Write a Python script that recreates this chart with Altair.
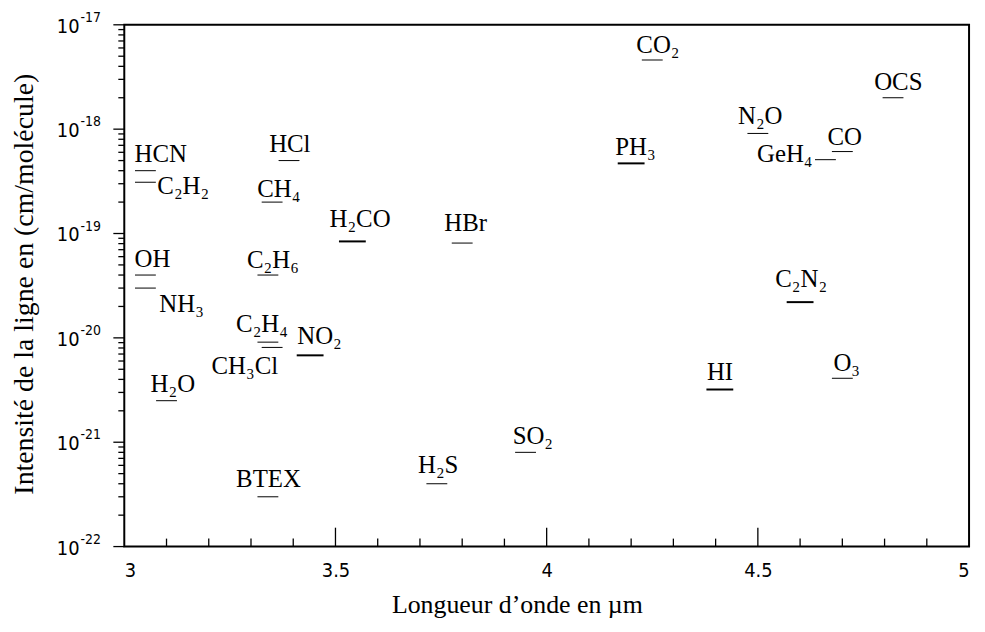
import altair as alt
import pandas as pd

# ---------------- data ----------------
molecules = ["HCN", "C₂H₂", "OH", "NH₃", "H₂O", "HCl", "CH₄", "C₂H₆", "C₂H₄", "CH₃Cl",
             "NO₂", "BTEX", "H₂CO", "HBr", "H₂S", "SO₂", "CO₂", "PH₃", "N₂O", "GeH₄",
             "CO", "OCS", "C₂N₂", "HI", "O₃"]
wavelength_um = [3.05, 3.05, 3.05, 3.05, 3.10, 3.39, 3.35, 3.34, 3.34, 3.35,
                 3.44, 3.34, 3.54, 3.80, 3.74, 3.95, 4.25, 4.20, 4.50, 4.66,
                 4.70, 4.82, 4.60, 4.41, 4.70]
intensity = [4.0e-19, 3.1e-19, 4.0e-20, 3.0e-20, 2.5e-21, 5.0e-19, 2.0e-19, 4.0e-20, 9.1e-21, 8.1e-21,
             6.8e-21, 3.0e-22, 8.4e-20, 8.1e-20, 4.0e-22, 8.0e-22, 4.6e-18, 4.7e-19, 9.1e-19, 5.1e-19,
             6.1e-19, 2.0e-18, 2.2e-20, 3.2e-21, 4.1e-21]

x_axis_labels = [3, 3.5, 4, 4.5, 5]
x_major_ticks = [3.5, 4.0, 4.5]
x_minor_ticks = [3.1, 3.2, 3.3, 3.4, 3.6, 3.7, 3.8, 3.9, 4.1, 4.2, 4.3, 4.4, 4.6, 4.7, 4.8, 4.9]
y_decades = [1e-22, 1e-21, 1e-20, 1e-19, 1e-18, 1e-17]
y_exponents = ["-22", "-21", "-20", "-19", "-18", "-17"]
y_minor_ticks = [k * d for d in [1e-22, 1e-21, 1e-20, 1e-19, 1e-18] for k in [2, 3, 4, 5, 6, 7, 8, 9]]

# ---------------- layout / style ----------------
BOLD = {"H₂CO", "NO₂", "PH₃", "C₂N₂", "HI"}
# label offsets (px) relative to the line centre: dx, dy, align
LABEL_LAYOUT = {
    "HCN": (-11, -9, "left"), "C₂H₂": (12, 12, "left"), "OH": (-11, -8, "left"),
    "NH₃": (14, 24, "left"), "H₂O": (-16, -9, "left"), "HCl": (-20, -9, "left"),
    "CH₄": (-15, -5, "left"), "C₂H₆": (-21, -7, "left"), "C₂H₄": (-32, -10, "left"),
    "CH₃Cl": (-61, 27, "left"), "NO₂": (-13, -11, "left"), "BTEX": (-32, -10, "left"),
    "H₂CO": (-23, -14, "left"), "HBr": (-18, -12, "left"), "H₂S": (-19, -11, "left"),
    "SO₂": (-13, -8, "left"), "CO₂": (-16, -7, "left"), "PH₃": (-16, -8, "left"),
    "N₂O": (-20, -9, "left"), "GeH₄": (-13, 2, "right"), "CO": (-15, -7, "left"),
    "OCS": (-19, -8, "left"), "C₂N₂": (-25, -15, "left"), "HI": (-13, -10, "left"),
    "O₃": (-9, -7, "left"),
}
W, H = 850, 525
SERIF = "Liberation Serif"
SANS = "Liberation Sans Narrow, DejaVu Sans Condensed, Liberation Sans, sans-serif"

df = pd.DataFrame({"molecule": molecules, "wavelength": wavelength_um, "intensity": intensity})
df["bold"] = df["molecule"].isin(BOLD)

xs = alt.Scale(domain=[3, 5], nice=False, zero=False)
ys = alt.Scale(type="log", domain=[1e-22, 1e-17], nice=False)

x_axis = alt.Axis(values=x_axis_labels, format="~g", ticks=False, domain=False, grid=False,
                  labelFont=SANS, labelFontSize=20, labelPadding=14, labelColor="black",
                  title="Longueur d’onde en µm", titleFont=SERIF, titleFontSize=26,
                  titleFontWeight="normal", titlePadding=11, titleColor="black",
                  titleX=395, titleAnchor="middle", titleAlign="center")
y_axis = alt.Axis(labels=False, ticks=False, domain=False, grid=False,
                  title="Intensité de la ligne en (cm/molécule)", titleFont=SERIF,
                  titleFontSize=28, titleFontWeight="normal", titleColor="black",
                  titleAngle=-90, titleX=-86, titleY=H / 2 - 2, titleBaseline="bottom", titleAlign="center")

X = alt.X("wavelength:Q", scale=xs, axis=x_axis, title="Longueur d’onde en µm")
Y = alt.Y("intensity:Q", scale=ys, axis=y_axis, title="Intensité de la ligne en (cm/molécule)")

thin = alt.Chart(df).transform_filter("!datum.bold").mark_tick(
    orient="horizontal", size=21, thickness=1, color="black", opacity=1
).encode(x=X, y=Y)

thick = alt.Chart(df).transform_filter("datum.bold").mark_tick(
    orient="horizontal", size=27, thickness=2, color="black", opacity=1
).encode(x=X, y=Y)

label_layers = []
for name in molecules:
    dx, dy, align = LABEL_LAYOUT[name]
    label_layers.append(
        alt.Chart(df).transform_filter(alt.datum.molecule == name).mark_text(
            dx=dx, dy=dy, align=align, baseline="alphabetic", font=SERIF, fontSize=25, color="black"
        ).encode(x=X, y=Y, text="molecule:N")
    )

xminor = alt.Chart(pd.DataFrame({"wavelength": x_minor_ticks})).mark_rule(
    color="black", strokeWidth=1.3).encode(x=X, y=alt.value(H), y2=alt.value(H - 8))
xmajor = alt.Chart(pd.DataFrame({"wavelength": x_major_ticks})).mark_rule(
    color="black", strokeWidth=1.3).encode(x=X, y=alt.value(H), y2=alt.value(H - 19))

yminor = alt.Chart(pd.DataFrame({"intensity": y_minor_ticks})).mark_rule(
    color="black", strokeWidth=1.3).encode(y=Y, x=alt.value(-6), x2=alt.value(0))
ymajor = alt.Chart(pd.DataFrame({"intensity": y_decades})).mark_rule(
    color="black", strokeWidth=1.3).encode(y=Y, x=alt.value(-11), x2=alt.value(0))

ydf = pd.DataFrame({"intensity": y_decades, "exp": y_exponents})
ybase = alt.Chart(ydf).mark_text(align="right", baseline="middle", dy=2, font=SANS,
                                  fontSize=20, color="black").encode(
    x=alt.value(-45), y=Y, text=alt.value("10"))
yexp = alt.Chart(ydf).mark_text(align="left", baseline="middle", dy=-7, font=SANS,
                                 fontSize=14, color="black").encode(
    x=alt.value(-44), y=Y, text="exp:N")

chart = alt.layer(thin, thick, *label_layers, xminor, xmajor, yminor, ymajor, ybase, yexp).properties(
    width=W, height=H,
    autosize=alt.AutoSizeParams(type="none"),
    padding={"left": 117, "top": 15, "right": 8, "bottom": 76},
    background="white",
).configure_view(
    stroke="black", strokeWidth=2
).configure_axis(
    titleFont=SERIF, labelFont=SANS, titleFontWeight="normal"
)

chart.save("out.html", embed_options={"renderer": "svg", "actions": False})
